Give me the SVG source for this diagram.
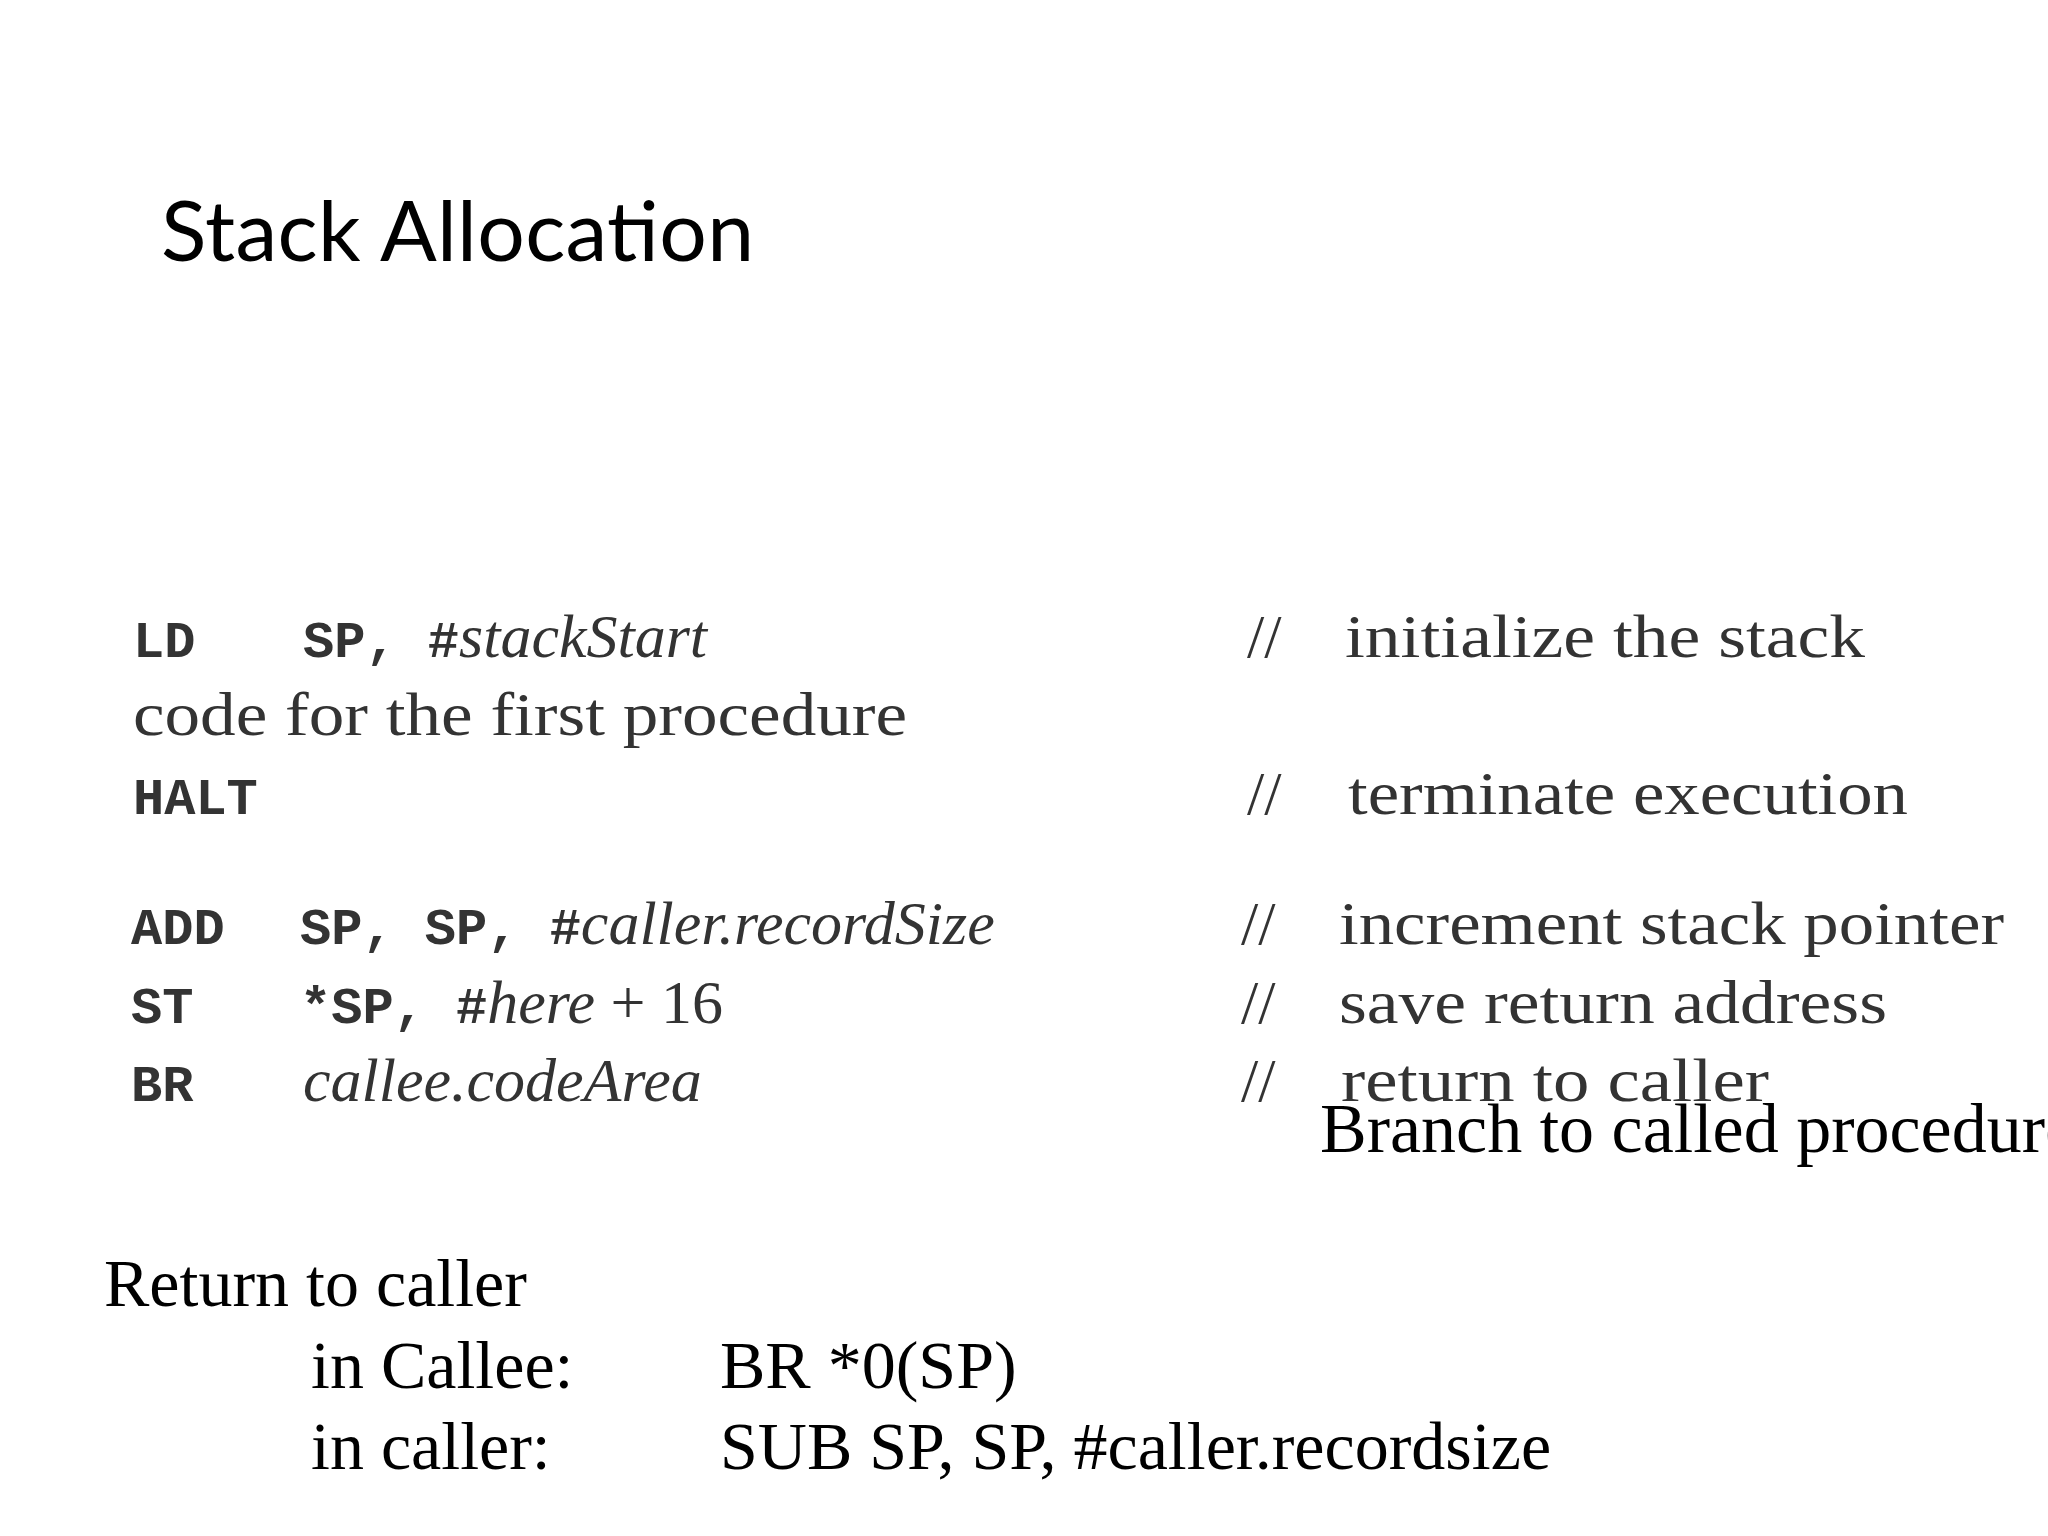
<svg xmlns="http://www.w3.org/2000/svg" width="2048" height="1536" viewBox="0 0 2048 1536">
<style>
.t{font-family:Lato,"Open Sans",sans-serif;font-size:84px;fill:#000}
.m{font-family:"Liberation Mono",monospace;font-size:52px;font-weight:bold;fill:#333}
.s{font-family:"Liberation Serif",serif;font-size:62px;fill:#333}
.i{font-family:"Liberation Serif",serif;font-style:italic;font-size:62px;fill:#333}
.b{font-family:"Liberation Serif",serif;font-size:68px;fill:#000}
</style>
<rect width="2048" height="1536" fill="#fff"/>
<text class="t" x="161" y="261" textLength="593">Stack Allocation</text>
<g id="code">
<text class="m" x="133" y="657">LD</text>
<text x="303" y="657"><tspan class="m">SP, #</tspan><tspan class="i">stackStart</tspan></text>
<text class="s" x="133" y="735" textLength="774" lengthAdjust="spacingAndGlyphs">code for the first procedure</text>
<text class="m" x="133" y="814">HALT</text>
<text class="m" x="131" y="944">ADD</text>
<text x="300" y="944"><tspan class="m">SP, SP, #</tspan><tspan class="i">caller.recordSize</tspan></text>
<text class="m" x="131" y="1023">ST</text>
<text x="300" y="1023"><tspan class="m">*SP, #</tspan><tspan class="i">here</tspan><tspan class="s"> + 16</tspan></text>
<text class="m" x="131" y="1101">BR</text>
<text class="i" x="303" y="1101">callee.codeArea</text>
</g>
<g id="comments">
<text class="s" x="1247" y="657">//</text><text class="s" x="1345" y="657" textLength="520" lengthAdjust="spacingAndGlyphs">initialize the stack</text>
<text class="s" x="1247" y="814">//</text><text class="s" x="1348" y="814" textLength="560" lengthAdjust="spacingAndGlyphs">terminate execution</text>
<text class="s" x="1241" y="944">//</text><text class="s" x="1339" y="944" textLength="665" lengthAdjust="spacingAndGlyphs">increment stack pointer</text>
<text class="s" x="1241" y="1023">//</text><text class="s" x="1339" y="1023" textLength="548" lengthAdjust="spacingAndGlyphs">save return address</text>
<text class="s" x="1241" y="1101">//</text><text class="s" x="1341" y="1101" textLength="428" lengthAdjust="spacingAndGlyphs">return to caller</text>
</g>
<text class="b" x="1320" y="1152" style="font-size:70px">Branch to called procedure</text>
<text class="b" x="104" y="1306">Return to caller</text>
<text class="b" x="311" y="1388">in Callee:</text>
<text class="b" x="720" y="1388">BR *0(SP)</text>
<text class="b" x="311" y="1469">in caller:</text>
<text class="b" x="720" y="1469">SUB SP, SP, #caller.recordsize</text>
</svg>
